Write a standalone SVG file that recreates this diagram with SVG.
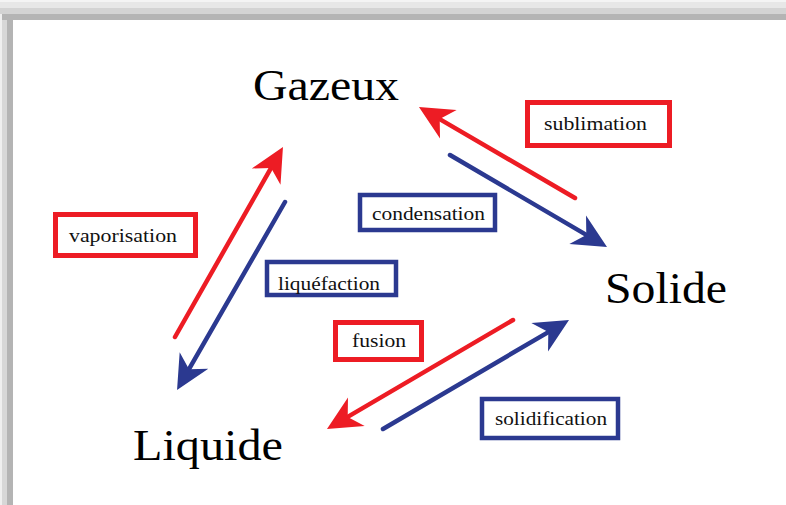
<svg xmlns="http://www.w3.org/2000/svg" width="786" height="505" viewBox="0 0 786 505">
<style>
.big{font-family:"Liberation Serif","Times New Roman",serif;font-size:44px;fill:#000}
.lbl{font-family:"Liberation Serif","Times New Roman",serif;font-size:19px;fill:#111}
.rbox{fill:#fff;stroke:#ed1c24;stroke-width:5}
.bbox{fill:#fff;stroke:#2b3990;stroke-width:4.5}
.red{stroke:#ed1c24;stroke-width:4.5;fill:none;stroke-linecap:round;marker-end:url(#hr)}
.blue{stroke:#2b3990;stroke-width:4.5;fill:none;stroke-linecap:round;marker-end:url(#hb)}
</style>
<defs>
<marker id="hr" markerUnits="userSpaceOnUse" markerWidth="60" markerHeight="60" refX="0" refY="0" orient="auto" overflow="visible" viewBox="-30 -30 60 60">
<path d="M24 0 L-10 -16.5 L0 0 L-10 16.5 Z" fill="#ed1c24"/>
</marker>
<marker id="hb" markerUnits="userSpaceOnUse" markerWidth="60" markerHeight="60" refX="0" refY="0" orient="auto" overflow="visible" viewBox="-30 -30 60 60">
<path d="M24 0 L-10 -16.5 L0 0 L-10 16.5 Z" fill="#2b3990"/>
</marker>
</defs>
<rect x="0" y="0" width="786" height="505" fill="#fff"/>
<g id="frame">
<rect x="0" y="0" width="786" height="2" fill="#f4f4f4"/>
<rect x="0" y="2" width="786" height="6" fill="#e7e7e7"/>
<rect x="0" y="8" width="786" height="6" fill="#d3d3d3"/>
<rect x="2" y="14" width="784" height="6" fill="#b4b4b4"/>
<rect x="0" y="14" width="2" height="491" fill="#efefef"/>
<rect x="2" y="20" width="5" height="485" fill="#d7d7d7"/>
<rect x="7" y="20" width="6" height="485" fill="#b4b4b4"/>
</g>
<g id="connectors">
<path class="red" d="M175 337 L271.1 167.9"/>
<path class="blue" d="M285 202 L189 369.2"/>
<path class="red" d="M575 198 L439.7 119.1"/>
<path class="blue" d="M450 155 L586.3 234.9"/>
<path class="red" d="M513 320 L347.7 416.9"/>
<path class="blue" d="M383 429 L548.3 332.1"/>
</g>
<g id="gazeux"><text class="big" x="253" y="100" textLength="146" lengthAdjust="spacingAndGlyphs">Gazeux</text></g>
<g id="solide"><text class="big" x="605" y="303" textLength="122" lengthAdjust="spacingAndGlyphs">Solide</text></g>
<g id="liquide"><text class="big" x="133" y="460" textLength="150" lengthAdjust="spacingAndGlyphs">Liquide</text></g>
<g id="vaporisation"><rect class="rbox" x="55.5" y="214.5" width="140" height="41"/><text class="lbl" x="69" y="242" textLength="108" lengthAdjust="spacingAndGlyphs">vaporisation</text></g>
<g id="liquefaction"><rect class="bbox" x="267" y="262" width="129" height="33"/><text class="lbl" x="278" y="290" textLength="102" lengthAdjust="spacingAndGlyphs">liquéfaction</text></g>
<g id="condensation"><rect class="bbox" x="360" y="195" width="135" height="35"/><text class="lbl" x="372" y="220" textLength="113" lengthAdjust="spacingAndGlyphs">condensation</text></g>
<g id="sublimation"><rect class="rbox" x="527.5" y="102.5" width="142" height="43"/><text class="lbl" x="544" y="130" textLength="103" lengthAdjust="spacingAndGlyphs">sublimation</text></g>
<g id="fusion"><rect class="rbox" x="335.5" y="322.5" width="86" height="37"/><text class="lbl" x="352" y="347" textLength="54" lengthAdjust="spacingAndGlyphs">fusion</text></g>
<g id="solidification"><rect class="bbox" x="482" y="399" width="136" height="39"/><text class="lbl" x="495" y="425" textLength="112" lengthAdjust="spacingAndGlyphs">solidification</text></g>
</svg>
